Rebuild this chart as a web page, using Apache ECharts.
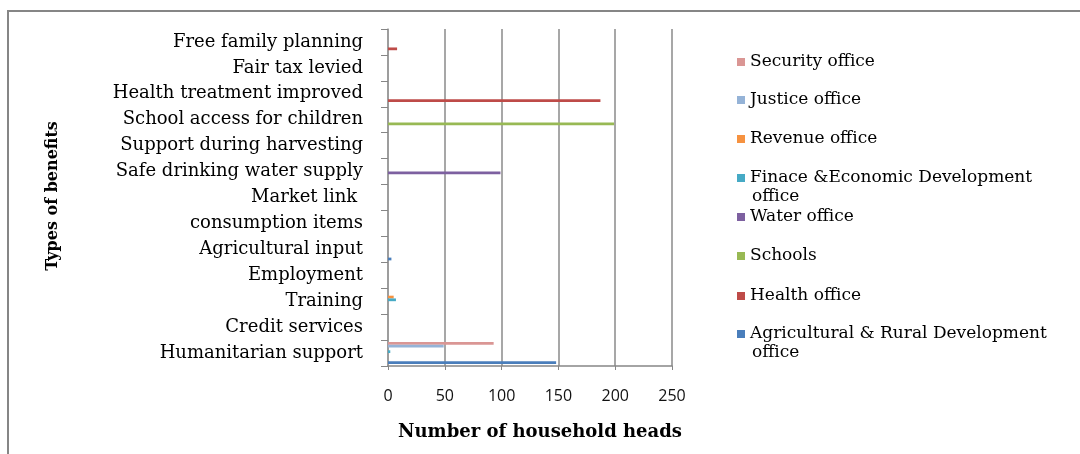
<!DOCTYPE html>
<html>
<head>
<meta charset="utf-8">
<script src="https://cdn.jsdelivr.net/npm/echarts@6/dist/echarts.min.js"></script>
<style>
html,body{margin:0;padding:0;background:#fff;}
#chart{width:1080px;height:454px;}
</style>
</head>
<body>
<div id="chart"></div>
<script>
// Categories, bottom to top
const categories = ['Humanitarian support','Credit services','Training','Employment','Agricultural input','consumption items','Market link ','Safe drinking water supply','Support during harvesting','School access for children','Health treatment improved','Fair tax levied','Free family planning'];
const seriesNames = ['Agricultural & Rural Development office','Health office','Schools','Water office','Finace &Economic Development office','Revenue office','Justice office','Security office'];
const agriculturalValues = [148,0,0,0,3,0,0,0,0,0,0,0,0];
const healthValues       = [0,0,0,0,0,0,0,0,0,0,187,0,8];
const schoolsValues      = [0,0,0,0,0,0,0,0,0,199,0,0,0];
const waterValues        = [0,0,0,0,0,0,0,99,0,0,0,0,0];
const financeValues      = [2,0,7,0,0,0,0,0,0,0,0,0,0];
const revenueValues      = [0,0,5,0,0,0,0,0,0,0,0,0,0];
const justiceValues      = [49,0,0,0,0,0,0,0,0,0,0,0,0];
const securityValues     = [93,0,0,0,0,0,0,0,0,0,0,0,0];
const xTicks = [0,50,100,150,200,250];

const colors = ['#4A7EBB','#BE4B48','#98B954','#7D60A0','#46AAC5','#F69240','#95B3D7','#DA9694'];
const valueLists = [agriculturalValues,healthValues,schoolsValues,waterValues,financeValues,revenueValues,justiceValues,securityValues];

const serif = 'DejaVu Serif';
const chart = echarts.init(document.getElementById('chart'));

// legend order top to bottom
const legendOrder = [7,6,5,4,3,2,1,0];
const legendCenters = [62,100,139,178,217,256,296,334];
const legends = legendOrder.map((si, i) => ({
  data: [seriesNames[si]],
  orient: 'vertical',
  left: 737,
  top: legendCenters[i] - 10,
  padding: 0,
  itemWidth: 8,
  itemHeight: 8,
  icon: 'rect',
  selectedMode: false,
  textStyle: {fontFamily: serif, fontSize: 17, color: '#000', lineHeight: 20},
  formatter: function(n){
    if (n === 'Finace &Economic Development office') return 'Finace &Economic Development';
    if (n === 'Agricultural & Rural Development office') return 'Agricultural & Rural Development';
    return n;
  }
}));

// first series in each group is drawn at the top
const seriesOrder = [7,6,5,4,3,2,1,0];
const series = seriesOrder.map(si => ({
  name: seriesNames[si],
  type: 'bar',
  data: valueLists[si],
  itemStyle: {color: colors[si]},
  barGap: '0%',
  barCategoryGap: '15%',
  animation: false
}));

chart.setOption({
  animation: false,
  color: colors,
  grid: {left: 388, right: 408, top: 29, bottom: 88, containLabel: false},
  legend: legends,
  xAxis: {
    type: 'value', min: 0, max: 250, interval: 50,
    axisLine: {show: true, lineStyle: {color: '#868686', width: 1.5}},
    axisTick: {show: true, length: 4, lineStyle: {color: '#868686'}},
    splitLine: {show: true, lineStyle: {color: '#8a8a8a', width: 1.5}},
    axisLabel: {fontFamily: 'Open Sans', fontSize: 16, color: '#111', margin: 22,
      formatter: v => xTicks.indexOf(v) >= 0 ? String(v) : ''}
  },
  yAxis: {
    type: 'category', data: categories,
    axisLine: {show: true, lineStyle: {color: '#9a9a9a', width: 1.5}},
    axisTick: {show: true, length: 7, lineStyle: {color: '#868686'}},
    axisLabel: {interval: 0, fontFamily: serif, fontSize: 18, color: '#000', margin: 25}
  },
  series: series,
  graphic: [
    {type: 'rect', shape: {x: 8, y: 11, width: 1200, height: 600}, style: {fill: 'none', stroke: '#868686', lineWidth: 2}, silent: true},
    {type: 'text', x: 540, y: 432, style: {text: 'Number of household heads', fontFamily: serif, fontWeight: 'bold', fontSize: 18, fill: '#000', align: 'center', verticalAlign: 'middle'}},
    {type: 'text', x: 53, y: 196, rotation: Math.PI/2, style: {text: 'Types of benefits', fontFamily: serif, fontWeight: 'bold', fontSize: 16, fill: '#000', align: 'center', verticalAlign: 'middle'}},
    {type: 'text', x: 752, y: 197, style: {text: 'office', fontFamily: serif, fontSize: 17, fill: '#000', align: 'left', verticalAlign: 'middle'}},
    {type: 'text', x: 752, y: 353, style: {text: 'office', fontFamily: serif, fontSize: 17, fill: '#000', align: 'left', verticalAlign: 'middle'}}
  ]
});
</script>
</body>
</html>
